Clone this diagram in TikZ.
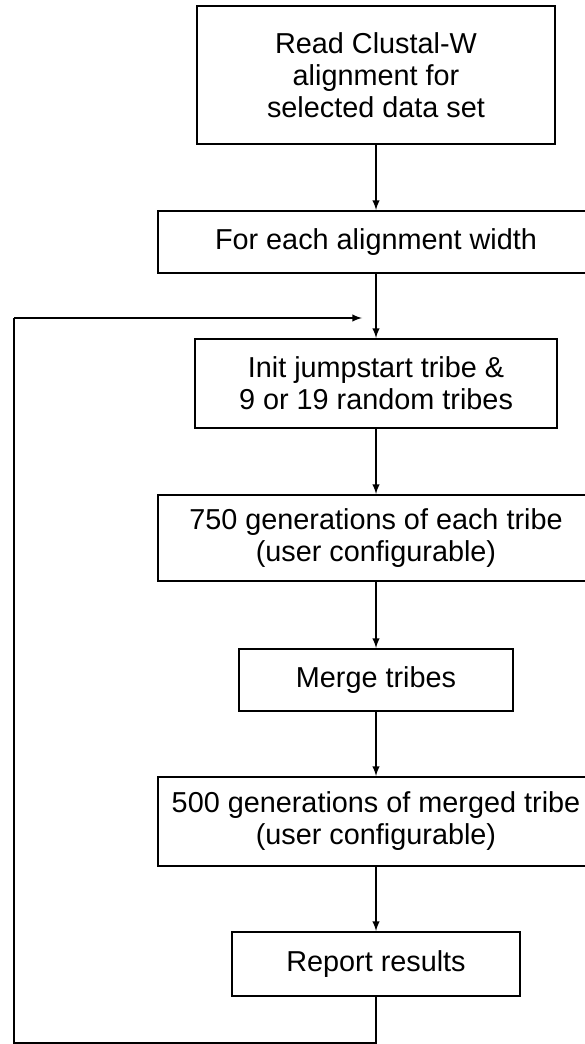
\documentclass[tikz,border=0pt]{standalone}
\usepackage{fontspec}
\setmainfont{Liberation Sans}
\usepackage{tikz}
\usetikzlibrary{arrows,positioning}

\begin{document}
\begin{tikzpicture}[
        box/.style={rectangle, draw, line width=1.1pt, text centered, align=center, font=\fontsize{16.4}{18.2}\selectfont},
        widebox/.style={box, minimum width=8.72cm},
        arrow/.style={->, >=latex, line width=0.9pt},
        wire/.style={line width=0.9pt}
    ]
        \useasboundingbox (0,0) rectangle (11.7,-20.88);
        \clip (0,0) rectangle (11.7,-20.88);

        % Read alignment
        \node[box, minimum width=7.16cm, minimum height=2.76cm] (read) at (7.52,-1.5) {Read Clustal-W\\alignment for\\selected data set};

        % Outer loop
        \node[widebox, minimum height=1.24cm] (width) at (7.52,-4.84) {For each alignment width};

        % Tribes
        \node[box, minimum width=7.24cm, minimum height=1.78cm] (init) at (7.52,-7.67) {Init jumpstart tribe \&\\9 or 19 random tribes};
        \node[widebox, minimum height=1.72cm] (gen) at (7.52,-10.76) {750 generations of each tribe\\(user configurable)};
        \node[box, minimum width=5.48cm, minimum height=1.24cm] (merge) at (7.52,-13.6) {Merge tribes};
        \node[widebox, minimum height=1.78cm] (mgen) at (7.52,-16.43) {500 generations of merged tribe\\(user configurable)};

        % Output
        \node[box, minimum width=5.76cm, minimum height=1.28cm] (report) at (7.52,-19.28) {Report results};

        % Loop back
        \coordinate (bottom) at (7.52,-20.86);
        \coordinate (corner) at (0.28,-20.86);
        \coordinate (up) at (0.28,-6.36);
        \coordinate (loopin) at (7.24,-6.36);

        % Connections
        \draw[arrow] (read) -- (width);
        \draw[arrow] (width) -- (init);
        \draw[arrow] (init) -- (gen);
        \draw[arrow] (gen) -- (merge);
        \draw[arrow] (merge) -- (mgen);
        \draw[arrow] (mgen) -- (report);
        \draw[wire] (report) -- (bottom) -- (corner) -- (up);
        \draw[arrow] (up) -- (loopin);

    \end{tikzpicture}
\end{document}
